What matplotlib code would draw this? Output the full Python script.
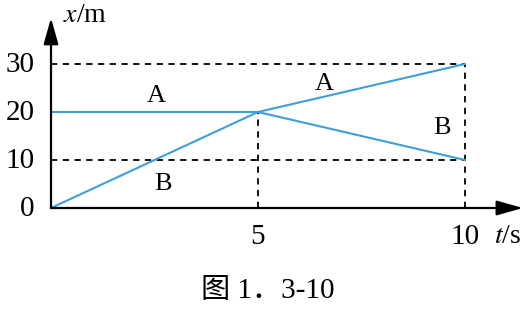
import matplotlib
matplotlib.use("Agg")
import matplotlib.pyplot as plt

# Data
t_vals = [0, 5, 10]
x_A = [20, 20, 30]
x_B = [0, 20, 10]
xticks = [5, 10]
xtick_labels = ["5", "10"]
yticks = [0, 10, 20, 30]
ytick_labels = ["0", "10", "20", "30"]
caption = "图 1．3-10"

W, H = 525, 310
fig = plt.figure(figsize=(W / 100, H / 100), dpi=100)
x0, x1 = 51, 465
y0, y1 = 208, 64
ax = fig.add_axes([x0 / W, 1 - y0 / H, (x1 - x0) / W, (y0 - y1) / H])
ax.set_xlim(0, 10)
ax.set_ylim(0, 30)
for s in ax.spines.values():
    s.set_visible(False)
ax.set_xticks([])
ax.set_yticks([])
ax.patch.set_alpha(0)

serif = ["Liberation Serif", "Noto Sans CJK SC"]
line_col = "#3d9fdc"
dash = dict(color="black", lw=1.3, ls=(0, (3.5, 3)), clip_on=False)

# guide lines
ax.plot([0, 10], [30, 30], **dash)
ax.plot([0, 10], [10, 10], **dash)
ax.plot([5, 5], [0, 20], **dash)
ax.plot([10, 10], [0, 30], **dash)

# data lines
ax.plot(t_vals, x_A, color=line_col, lw=1.5, clip_on=False)
ax.plot(t_vals, x_B, color=line_col, lw=1.5, clip_on=False)

# axes with arrows
ap = dict(arrowstyle="-|>,head_length=1.6,head_width=0.45", color="black", lw=1.6,
          shrinkA=0, shrinkB=0)
ax.annotate("", xy=(11.4, 0), xytext=(0, 0), xycoords="data",
            arrowprops=ap, annotation_clip=False)
ax.annotate("", xy=(0, 39.6), xytext=(0, 0), xycoords="data",
            arrowprops=ap, annotation_clip=False)

# tick labels
for v, lab in zip(yticks, ytick_labels):
    ax.text(-0.4, v - 0.3, lab, ha="right", va="center", fontsize=21, family=serif)
for v, lab in zip(xticks, xtick_labels):
    ax.text(v, -6.0, lab, ha="center", va="center", fontsize=21, family=serif)

# axis labels
ax.text(0.28, 40.0, r"$x$/m", ha="left", va="center", fontsize=20,
        family=serif, math_fontfamily="stix")
ax.text(10.7, -6.0, r"$t$/s", ha="left", va="center", fontsize=20,
        family=serif, math_fontfamily="stix")

# series labels
ax.text(2.55, 23.3, "A", ha="center", va="center", fontsize=19, family=serif)
ax.text(6.6, 25.8, "A", ha="center", va="center", fontsize=19, family=serif)
ax.text(2.7, 5.0, "B", ha="center", va="center", fontsize=19, family=serif)
ax.text(9.45, 16.6, "B", ha="center", va="center", fontsize=19, family=serif)

fig.text(268 / W, 1 - 291 / H, caption, ha="center", va="center", fontsize=21, family=serif)

fig.savefig("out.png", dpi=100, facecolor="white")
